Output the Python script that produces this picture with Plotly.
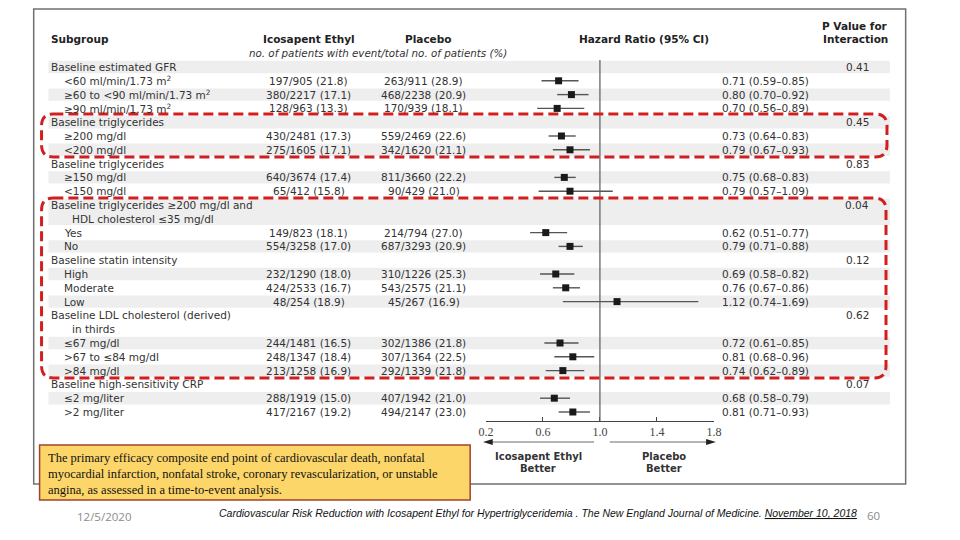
import plotly.graph_objects as go

# ---------------- data ----------------
subgroups = [
    "Baseline estimated GFR", "<60 ml/min/1.73 m<sup>2</sup>", "≥60 to <90 ml/min/1.73 m<sup>2</sup>",
    "≥90 ml/min/1.73 m<sup>2</sup>",
    "Baseline triglycerides", "≥200 mg/dl", "<200 mg/dl",
    "Baseline triglycerides", "≥150 mg/dl", "<150 mg/dl",
    "Baseline triglycerides ≥200 mg/dl and", "HDL cholesterol ≤35 mg/dl", "Yes", "No",
    "Baseline statin intensity", "High", "Moderate", "Low",
    "Baseline LDL cholesterol (derived)", "in thirds", "≤67 mg/dl", ">67 to ≤84 mg/dl", ">84 mg/dl",
    "Baseline high-sensitivity CRP", "≤2 mg/liter", ">2 mg/liter",
]
indent_level = [0, 1, 1, 1, 0, 1, 1, 0, 1, 1, 0, 2, 1, 1, 0, 1, 1, 1, 0, 2, 1, 1, 1, 0, 1, 1]
icosapent = [
    "", "197/905 (21.8)", "380/2217 (17.1)", "128/963 (13.3)",
    "", "430/2481 (17.3)", "275/1605 (17.1)",
    "", "640/3674 (17.4)", "65/412 (15.8)",
    "", "", "149/823 (18.1)", "554/3258 (17.0)",
    "", "232/1290 (18.0)", "424/2533 (16.7)", "48/254 (18.9)",
    "", "", "244/1481 (16.5)", "248/1347 (18.4)", "213/1258 (16.9)",
    "", "288/1919 (15.0)", "417/2167 (19.2)",
]
placebo = [
    "", "263/911 (28.9)", "468/2238 (20.9)", "170/939 (18.1)",
    "", "559/2469 (22.6)", "342/1620 (21.1)",
    "", "811/3660 (22.2)", "90/429 (21.0)",
    "", "", "214/794 (27.0)", "687/3293 (20.9)",
    "", "310/1226 (25.3)", "543/2575 (21.1)", "45/267 (16.9)",
    "", "", "302/1386 (21.8)", "307/1364 (22.5)", "292/1339 (21.8)",
    "", "407/1942 (21.0)", "494/2147 (23.0)",
]
hazard_ratio = [None, 0.71, 0.80, 0.70, None, 0.73, 0.79, None, 0.75, 0.79, None, None, 0.62, 0.79,
                None, 0.69, 0.76, 1.12, None, None, 0.72, 0.81, 0.74, None, 0.68, 0.81]
ci_low = [None, 0.59, 0.70, 0.56, None, 0.64, 0.67, None, 0.68, 0.57, None, None, 0.51, 0.71,
          None, 0.58, 0.67, 0.74, None, None, 0.61, 0.68, 0.62, None, 0.58, 0.71]
ci_high = [None, 0.85, 0.92, 0.89, None, 0.83, 0.93, None, 0.83, 1.09, None, None, 0.77, 0.88,
           None, 0.82, 0.86, 1.69, None, None, 0.85, 0.96, 0.89, None, 0.79, 0.93]
p_interaction = ["0.41", "", "", "", "0.45", "", "", "0.83", "", "", "0.04", "", "", "",
                 "0.12", "", "", "", "0.62", "", "", "", "", "0.07", "", ""]
tick_values = [0.2, 0.6, 1.0, 1.4, 1.8]
tick_labels = ["0.2", "0.6", "1.0", "1.4", "1.8"]

# ---------------- layout helpers ----------------
PAGE_MARGIN = 8          # default body margin of the html page
W, H = 960 - 2 * PAGE_MARGIN, 540 - 2 * PAGE_MARGIN
ROW0_PX, ROW_H = 67.0, 13.8
AXIS_PX = 421.0


def xp(px):
    return (px - PAGE_MARGIN) / W


def yp(py):
    return 1 - (py - PAGE_MARGIN) / H


FONT = "DejaVu Sans"
TXT = "#333333"
BODY = dict(family=FONT, size=10.5, color=TXT)

rows = list(range(len(subgroups)))
fig = go.Figure()

# forest plot markers + CIs
pr = [(r, h, lo, hi) for r, h, lo, hi in zip(rows, hazard_ratio, ci_low, ci_high) if h is not None]
fig.add_trace(go.Scatter(
    x=[p[1] for p in pr], y=[p[0] for p in pr], mode="markers",
    marker=dict(symbol="square", size=7, color="#1a1a1a"),
    error_x=dict(type="data", symmetric=False,
                 array=[p[3] - p[1] for p in pr], arrayminus=[p[1] - p[2] for p in pr],
                 color="#555555", thickness=1.4, width=0),
    showlegend=False, hoverinfo="skip", cliponaxis=False,
))

shapes = []
annotations = []

# outer frame
shapes.append(dict(type="rect", xref="paper", yref="paper", x0=xp(26), x1=xp(913), y0=yp(484), y1=yp(9),
                   line=dict(color="#707070", width=1.5), fillcolor="rgba(0,0,0,0)", layer="below"))

# alternating stripes (per entry)
shade = True
r = 0
while r < len(rows):
    end = r
    while end + 1 < len(rows) and indent_level[end + 1] == 2:
        end += 1
    if shade:
        shapes.append(dict(type="rect", xref="paper", yref="y", x0=xp(41), x1=xp(897),
                           y0=r - 0.45, y1=end + 0.45, fillcolor="#eeeeee", line=dict(width=0), layer="below"))
    shade = not shade
    r = end + 1

# vertical line at HR = 1.0
shapes.append(dict(type="line", xref="x", yref="paper", x0=1.0, x1=1.0, y0=yp(AXIS_PX), y1=yp(60),
                   line=dict(color="#5a5a5a", width=1.2)))

# row texts
indent_px = {0: 43, 1: 56, 2: 64}
for k in rows:
    annotations.append(dict(xref="paper", yref="y", x=xp(indent_px[indent_level[k]]), y=k, text=subgroups[k],
                            showarrow=False, xanchor="left", yanchor="middle", borderpad=0, font=BODY))
    if icosapent[k]:
        annotations.append(dict(xref="paper", yref="y", x=xp(306), y=k, text=icosapent[k], showarrow=False,
                                xanchor="center", yanchor="middle", borderpad=0, font=BODY))
    if placebo[k]:
        annotations.append(dict(xref="paper", yref="y", x=xp(423), y=k, text=placebo[k], showarrow=False,
                                xanchor="center", yanchor="middle", borderpad=0, font=BODY))
    if hazard_ratio[k] is not None:
        t = f"{hazard_ratio[k]:.2f} ({ci_low[k]:.2f}\u2013{ci_high[k]:.2f})"
        annotations.append(dict(xref="paper", yref="y", x=xp(725), y=k, text=t, showarrow=False,
                                xanchor="left", yanchor="middle", borderpad=0, font=BODY))
    if p_interaction[k]:
        annotations.append(dict(xref="paper", yref="y", x=xp(877), y=k, text=p_interaction[k], showarrow=False,
                                xanchor="right", yanchor="middle", borderpad=0, font=BODY))

# headers
hdr = dict(family=FONT, size=10.5, color="#222222")


def add_text(px, py, text, anchor="center", font=None):
    annotations.append(dict(xref="paper", yref="paper", x=xp(px), y=yp(py), text=text, showarrow=False,
                            xanchor=anchor, yanchor="middle", borderpad=0, font=font or hdr))


add_text(43, 39, "<b>Subgroup</b>", "left")
add_text(306, 39, "<b>Icosapent Ethyl</b>")
add_text(427, 39, "<b>Placebo</b>")
add_text(647, 39, "<b>Hazard Ratio (95% CI)</b>")
add_text(896, 26, "<b>P Value for</b>", "right")
add_text(896, 39, "<b>Interaction</b>", "right")
add_text(244, 53, "<i>no. of patients with event/total no. of patients (%)</i>", "left",
         dict(family=FONT, size=10.3, color="#333333"))
lab = dict(family=FONT, size=10, color="#333333")
add_text(539, 456, "<b>Icosapent Ethyl</b>", "center", lab)
add_text(539, 468, "<b>Better</b>", "center", lab)
add_text(667, 456, "<b>Placebo</b>", "center", lab)
add_text(667, 468, "<b>Better</b>", "center", lab)


def P(px, py):
    return f"{xp(px):.5f},{yp(py):.5f}"


# direction arrows (gray shafts, dark heads)
shapes.append(dict(type="line", xref="paper", yref="paper", x0=xp(490), x1=xp(596), y0=yp(442), y1=yp(442),
                   line=dict(color="#b5b5b5", width=2)))
shapes.append(dict(type="line", xref="paper", yref="paper", x0=xp(612), x1=xp(712), y0=yp(442), y1=yp(442),
                   line=dict(color="#b5b5b5", width=2)))
shapes.append(dict(type="path", xref="paper", yref="paper",
                   path=f"M {P(483, 442)} L {P(493, 439)} L {P(493, 445)} Z",
                   fillcolor="#222222", line=dict(width=0)))
shapes.append(dict(type="path", xref="paper", yref="paper",
                   path=f"M {P(720, 442)} L {P(710, 439)} L {P(710, 445)} Z",
                   fillcolor="#222222", line=dict(width=0)))


# red dashed rounded boxes
def rounded_path(x0, y0, x1, y1, rad):
    return (f"M {P(x0 + rad, y0)} L {P(x1 - rad, y0)} Q {P(x1, y0)} {P(x1, y0 + rad)} "
            f"L {P(x1, y1 - rad)} Q {P(x1, y1)} {P(x1 - rad, y1)} L {P(x0 + rad, y1)} "
            f"Q {P(x0, y1)} {P(x0, y1 - rad)} L {P(x0, y0 + rad)} Q {P(x0, y0)} {P(x0 + rad, y0)} Z")


for (bx0, by0, bx1, by1) in [(34, 114, 894, 157), (34, 198, 893, 378)]:
    shapes.append(dict(type="path", xref="paper", yref="paper", path=rounded_path(bx0, by0, bx1, by1, 12),
                       line=dict(color="#d11f1f", width=3, dash="10px,5px"), fillcolor="rgba(0,0,0,0)"))

# yellow note box
shapes.append(dict(type="rect", xref="paper", yref="paper", x0=xp(32), x1=xp(470), y0=yp(500), y1=yp(445),
                   fillcolor="#fdd66a", line=dict(color="#a3422b", width=1.5)))
note_lines = [
    "The primary efficacy composite end point of cardiovascular death, nonfatal",
    "myocardial infarction, nonfatal stroke, coronary revascularization, or unstable",
    "angina, as assessed in a time-to-event analysis.",
]
for i, line in enumerate(note_lines):
    add_text(40, 458 + i * 16, line, "left", dict(family="Liberation Serif", size=12.5, color="#111111"))

# footer
add_text(98, 516, "12/5/2020", "center", dict(family="Open Sans", size=11.5, color="#8c8c8c"))
add_text(213, 513, "<i>Cardiovascular Risk Reduction with Icosapent Ethyl for Hypertriglyceridemia . "
                   "The New England Journal of Medicine. "
                   "<span style='text-decoration:underline'>November 10, 2018</span></i>", "left",
         dict(family="Liberation Sans", size=10.5, color="#111111"))
add_text(880, 515, "60", "center", dict(family="Open Sans", size=11.5, color="#8c8c8c"))

fig.update_layout(
    width=W, height=H, margin=dict(l=0, r=0, t=0, b=0),
    paper_bgcolor="white", plot_bgcolor="rgba(0,0,0,0)",
    shapes=shapes, annotations=annotations,
    xaxis=dict(domain=[xp(486), xp(718)], range=[0.2, 1.8], tickvals=tick_values, ticktext=tick_labels,
               showgrid=False, zeroline=False, showline=True, linecolor="#444444", linewidth=1,
               ticks="inside", ticklen=4, tickcolor="#444444",
               tickfont=dict(family="Liberation Serif", size=12, color="#444444"), fixedrange=True),
    yaxis=dict(domain=[yp(AXIS_PX), 1], range=[(AXIS_PX - ROW0_PX) / ROW_H, (PAGE_MARGIN - ROW0_PX) / ROW_H],
               visible=False, fixedrange=True),
)

fig.write_html("out.html")
